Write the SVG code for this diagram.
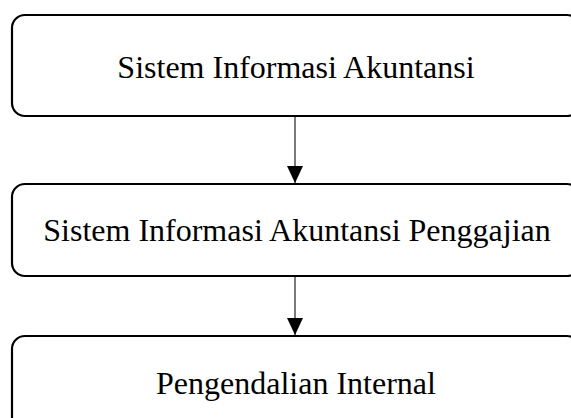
<svg xmlns="http://www.w3.org/2000/svg" width="571" height="418" viewBox="0 0 571 418">
<defs>
<style>
.box{fill:#fff;stroke:#000;stroke-width:2.2}
.lbl{font-family:"Liberation Serif","Times New Roman",serif;font-size:32px;fill:#000;text-anchor:middle}
.con{stroke:#333;stroke-width:1.3;fill:none}
</style>
<marker id="ah" markerWidth="17" markerHeight="16" refX="17" refY="8" orient="auto" markerUnits="userSpaceOnUse" viewBox="0 0 17 16">
<path d="M0,0 L17,8 L0,16 Z" fill="#000"/>
</marker>
</defs>
<rect width="571" height="418" fill="#fff"/>
<g id="connectors">
<line class="con" x1="295" y1="116" x2="295" y2="183" marker-end="url(#ah)"/>
<line class="con" x1="295" y1="276" x2="295" y2="335" marker-end="url(#ah)"/>
</g>
<g id="node1">
<rect class="box" x="12" y="15" width="568" height="101" rx="13"/>
<text class="lbl" x="296" y="78">Sistem Informasi Akuntansi</text>
</g>
<g id="node2">
<rect class="box" x="12" y="184" width="568" height="92" rx="13"/>
<text class="lbl" x="297" y="241">Sistem Informasi Akuntansi Penggajian</text>
</g>
<g id="node3">
<rect class="box" x="12" y="336" width="568" height="100" rx="13"/>
<text class="lbl" x="296" y="394">Pengendalian Internal</text>
</g>
</svg>
